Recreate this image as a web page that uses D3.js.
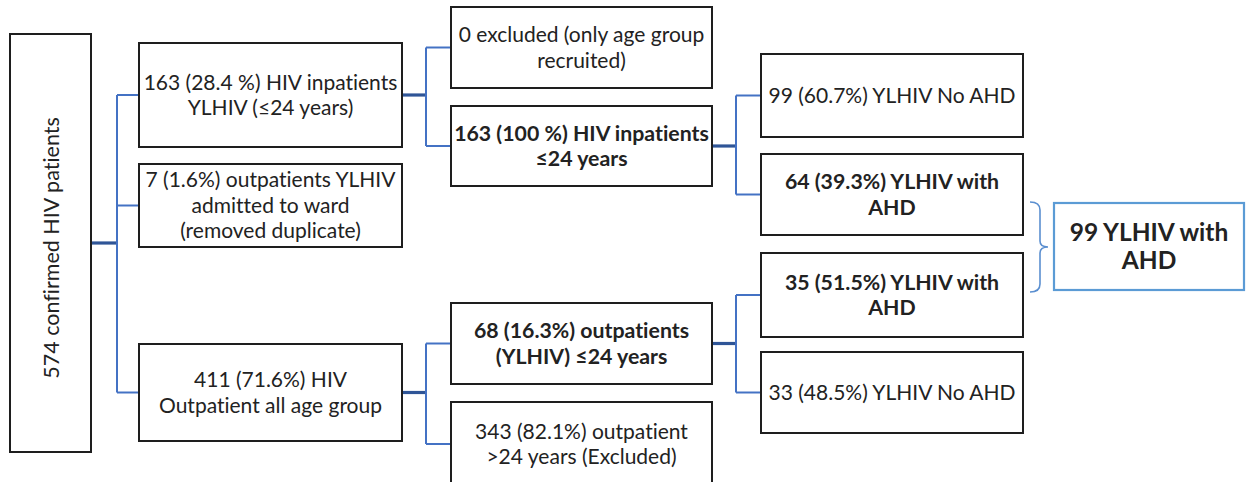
<!DOCTYPE html>
<html><head><meta charset="utf-8">
<script src="https://cdn.jsdelivr.net/npm/d3@7"></script>
<style>html,body{margin:0;padding:0;background:#fff;}svg{display:block;}text{font-variant-ligatures:none;font-feature-settings:"liga" 0;}</style>
</head><body><svg id="c" width="1247" height="482"></svg>
<script>
// ---- data ----
const nodeIds = ["root","A","B","C","D","E","F","G","H","I","J","K","L"];
const nodeLabels = [
  ["574 confirmed HIV patients"],
  ["163 (28.4 %) HIV inpatients","YLHIV (≤24 years)"],
  ["7 (1.6%) outpatients YLHIV","admitted to ward","(removed duplicate)"],
  ["411 (71.6%) HIV","Outpatient all age group"],
  ["0 excluded (only age group","recruited)"],
  ["163 (100 %) HIV inpatients","≤24 years"],
  ["99 (60.7%) YLHIV No AHD"],
  ["64 (39.3%) YLHIV with","AHD"],
  ["35 (51.5%) YLHIV with","AHD"],
  ["33 (48.5%) YLHIV No AHD"],
  ["68 (16.3%) outpatients","(YLHIV) ≤24 years"],
  ["343 (82.1%) outpatient",">24 years (Excluded)"],
  ["99 YLHIV with","AHD"]
];
const boldNodes = ["E","G","H","J","L"];
const edges = [["root",["A","B","C"]],["A",["D","E"]],["C",["J","K"]],["E",["F","G"]],["J",["H","I"]]];

// ---- layout (positions / sizes) ----
const layout = {
  root:[10,34,91,452], A:[139,43,402,147], B:[139,164,402,247], C:[139,344,402,441],
  D:[451,7,712,88], E:[451,106,712,186], J:[451,303,712,384], K:[451,402,712,486],
  F:[761,54,1023,137], G:[761,154,1023,235], H:[761,253,1023,337], I:[761,352,1023,433],
  L:[1054,203,1244,290]
};
const branchX = {root:117, A:426, C:426, E:736, J:736};
const FONT = "Lato, 'Open Sans', sans-serif";

const svg = d3.select("#c");
const nodes = nodeIds.map((id,i)=>({id, lines:nodeLabels[i], bold:boldNodes.includes(id), box:layout[id]}));
const byId = Object.fromEntries(nodes.map(n=>[n.id,n]));
const cy = n => n.id==="root" ? 243 : (n.box[1]+n.box[3])/2;

// connectors
const gL = svg.append("g");
edges.forEach(([p,kids])=>{
  const pn = byId[p], bx = branchX[p], py = cy(pn);
  gL.append("line").attr("x1",pn.box[2]).attr("x2",bx).attr("y1",py).attr("y2",py)
    .attr("stroke","#2f5597").attr("stroke-width",3.2);
  const ys = kids.map(k=>cy(byId[k]));
  gL.append("line").attr("x1",bx).attr("x2",bx).attr("y1",d3.min(ys)).attr("y2",d3.max(ys))
    .attr("stroke","#4472c4").attr("stroke-width",2);
  kids.forEach(k=>{
    const kn = byId[k];
    gL.append("line").attr("x1",bx).attr("x2",kn.box[0]).attr("y1",cy(kn)).attr("y2",cy(kn))
      .attr("stroke","#4472c4").attr("stroke-width",2);
  });
});

// brace
const y0 = byId.G.box[1]+48, y1 = byId.H.box[1]+39, ym=(y0+y1)/2;
const bx0=1030, bx1=1040, bx2=1048;
const p = d3.path();
p.moveTo(bx0,y0); p.quadraticCurveTo(bx1,y0,bx1,y0+8); p.lineTo(bx1,ym-6);
p.quadraticCurveTo(bx1,ym,bx2,ym); p.quadraticCurveTo(bx1,ym,bx1,ym+6);
p.lineTo(bx1,y1-8); p.quadraticCurveTo(bx1,y1,bx0,y1);
svg.append("path").attr("d",p.toString()).attr("fill","none").attr("stroke","#5b8fd0").attr("stroke-width",1.6);

// boxes
const gN = svg.selectAll("g.node").data(nodes).join("g").attr("class","node");
gN.append("rect")
  .attr("x",d=>d.box[0]).attr("y",d=>d.box[1])
  .attr("width",d=>d.box[2]-d.box[0]).attr("height",d=>d.box[3]-d.box[1])
  .attr("fill","#fff")
  .attr("stroke",d=>d.id==="L"?"#5b9bd5":"#1e1e1e")
  .attr("stroke-width",d=>d.id==="L"?2.2:2);

gN.each(function(d){
  const g = d3.select(this);
  const fs = d.id==="L" ? 24.5 : (d.bold ? 21.3 : 21);
  const lh = d.id==="L" ? 28 : 25.5;
  if(d.id==="root"){
    g.append("text").attr("transform",`translate(${(d.box[0]+d.box[2])/2+8},248) rotate(-90)`)
      .attr("text-anchor","middle").attr("font-family",FONT).attr("font-size",21.5)
      .attr("fill","#222").text(d.lines[0]);
    return;
  }
  const cx=(d.box[0]+d.box[2])/2, c=cy(d);
  const n=d.lines.length;
  d.lines.forEach((t,i)=>{
    g.append("text").attr("x",cx).attr("y",c+(i-(n-1)/2)*lh)
      .attr("dy","0.35em").attr("text-anchor","middle")
      .attr("font-family",FONT).attr("font-size",fs)
      .attr("font-weight",d.bold?"bold":"normal").attr("fill","#222").text(t);
  });
});
</script></body></html>
